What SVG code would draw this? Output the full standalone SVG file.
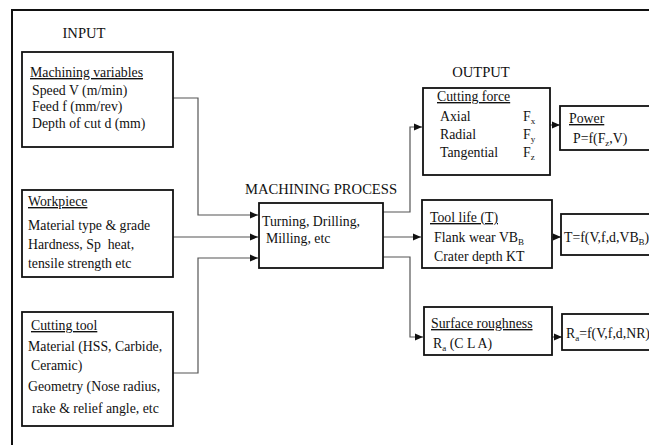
<svg xmlns="http://www.w3.org/2000/svg" width="649" height="445" viewBox="0 0 649 445">
<style>
text{font-family:"Liberation Serif","Times New Roman",serif;fill:#111;font-size:13.8px}
.h{font-size:14.6px}
.u{text-decoration:underline}
.box{fill:#fff;stroke:#111;stroke-width:1.8}
.c{fill:none;stroke:#555;stroke-width:1.2}
.s{font-size:9px}
</style>
<defs>
<marker id="ah" viewBox="0 0 8 8" refX="8" refY="4" markerWidth="8" markerHeight="8" markerUnits="userSpaceOnUse" orient="auto">
<path d="M0,0.5 L8,4 L0,7.5 z" fill="#111"/>
</marker>
</defs>
<rect width="649" height="445" fill="#fff"/>
<g id="frame">
<path d="M12,445 L12,10 L649,10" fill="none" stroke="#111" stroke-width="2"/>
</g>
<g id="labels">
<text class="h" x="84" y="38" text-anchor="middle">INPUT</text>
<text class="h" x="321" y="194" text-anchor="middle">MACHINING PROCESS</text>
<text class="h" x="481" y="77" text-anchor="middle">OUTPUT</text>
</g>
<g id="connectors">
<path class="c" d="M173,98 H198 V215 H258" marker-end="url(#ah)"/>
<path class="c" d="M173,237 H258" marker-end="url(#ah)"/>
<path class="c" d="M173,373 H198 V258 H258" marker-end="url(#ah)"/>
<path class="c" d="M383,212 H410 V127 H422" marker-end="url(#ah)"/>
<path class="c" d="M383,237 H421" marker-end="url(#ah)"/>
<path class="c" d="M383,257 H410 V337 H423" marker-end="url(#ah)"/>
<path class="c" d="M550,125 H560" marker-end="url(#ah)"/>
<path class="c" d="M552,237 H561" marker-end="url(#ah)"/>
<path class="c" d="M552,337 H562" marker-end="url(#ah)"/>
</g>
<g id="machining-variables">
<rect class="box" x="22" y="52" width="151" height="95"/>
<text class="u" x="30" y="77">Machining variables</text>
<text x="32" y="95">Speed V (m/min)</text>
<text x="32" y="111">Feed f (mm/rev)</text>
<text x="32" y="128">Depth of cut d (mm)</text>
</g>
<g id="workpiece">
<rect class="box" x="22" y="190" width="151" height="87"/>
<text class="u" x="28" y="206">Workpiece</text>
<text x="28" y="230">Material type &amp; grade</text>
<text x="28" y="249">Hardness, Sp&#160; heat,</text>
<text x="28" y="268">tensile strength etc</text>
</g>
<g id="cutting-tool">
<rect class="box" x="22" y="312" width="151" height="114"/>
<text class="u" x="31" y="330">Cutting tool</text>
<text x="28" y="351">Material (HSS, Carbide,</text>
<text x="31" y="370">Ceramic)</text>
<text x="28" y="391">Geometry (Nose radius,</text>
<text x="32" y="413">rake &amp; relief angle, etc</text>
</g>
<g id="machining-process">
<rect class="box" x="259" y="203" width="124" height="65"/>
<text x="262" y="226">Turning, Drilling,</text>
<text x="266" y="243">Milling, etc</text>
</g>
<g id="cutting-force">
<rect class="box" x="423" y="88" width="127" height="87"/>
<text class="u" x="437" y="101">Cutting force</text>
<text x="440" y="121">Axial</text>
<text x="440" y="139">Radial</text>
<text x="440" y="157">Tangential</text>
<text x="523" y="121">F<tspan class="s" dy="3">x</tspan></text>
<text x="523" y="139">F<tspan class="s" dy="3">y</tspan></text>
<text x="523" y="157">F<tspan class="s" dy="3">z</tspan></text>
</g>
<g id="power">
<rect class="box" x="560" y="106" width="95" height="44"/>
<text class="u" x="569" y="123">Power</text>
<text x="573" y="143">P=f(F<tspan class="s" dy="3">z</tspan><tspan dy="-3">,V)</tspan></text>
</g>
<g id="tool-life">
<rect class="box" x="422" y="200" width="130" height="68"/>
<text class="u" x="430" y="222">Tool life (T)</text>
<text x="434" y="242">Flank wear VB<tspan class="s" dy="3">B</tspan></text>
<text x="434" y="261">Crater depth KT</text>
</g>
<g id="tool-life-eq">
<rect class="box" x="561" y="214" width="95" height="41"/>
<text x="564" y="242">T=f(V,f,d,VB<tspan class="s" dy="3">B</tspan><tspan dy="-3">)</tspan></text>
</g>
<g id="surface-roughness">
<rect class="box" x="424" y="307" width="128" height="48"/>
<text class="u" x="431" y="328">Surface roughness</text>
<text x="433" y="348">R<tspan class="s" dy="3">a</tspan><tspan dy="-3"> (C L A)</tspan></text>
</g>
<g id="roughness-eq">
<rect class="box" x="562" y="314" width="95" height="36"/>
<text x="566" y="338">R<tspan class="s" dy="3">a</tspan><tspan dy="-3">=f(V,f,d,NR)</tspan></text>
</g>
</svg>
